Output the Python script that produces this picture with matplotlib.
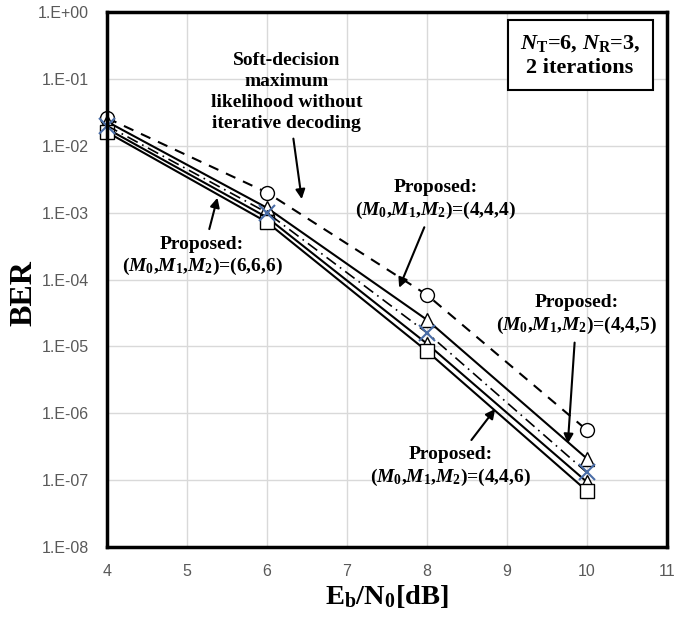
import matplotlib
matplotlib.use('Agg')
import matplotlib.pyplot as plt

# data (Eb/N0 in dB, BER)
snr = [4, 6, 8, 10]
ber_ml = [2.6e-2, 2.0e-3, 5.9e-5, 5.6e-7]      # soft-decision ML, no iterative decoding
ber_444 = [2.3e-2, 1.18e-3, 2.5e-5, 2.1e-7]
ber_445 = [2.0e-2, 1.0e-3, 1.6e-5, 1.3e-7]
ber_446 = [1.8e-2, 8.5e-4, 1.1e-5, 9.4e-8]
ber_666 = [1.6e-2, 7.2e-4, 8.5e-6, 6.9e-8]

y_ticks = [1e0, 1e-1, 1e-2, 1e-3, 1e-4, 1e-5, 1e-6, 1e-7, 1e-8]
y_labels = ['1.E+00', '1.E-01', '1.E-02', '1.E-03', '1.E-04',
            '1.E-05', '1.E-06', '1.E-07', '1.E-08']
x_ticks = [4, 5, 6, 7, 8, 9, 10, 11]

plt.rcParams['mathtext.fontset'] = 'custom'
plt.rcParams['mathtext.rm'] = 'Liberation Serif:bold'
plt.rcParams['mathtext.bf'] = 'Liberation Serif:bold'
plt.rcParams['mathtext.it'] = 'Liberation Serif:italic:bold'

fig = plt.figure(figsize=(6.99, 6.17), dpi=100)
ax = fig.add_axes([0.153, 0.1135, 0.801, 0.867])

mk = dict(markersize=10, markerfacecolor='white', markeredgecolor='black',
          markeredgewidth=1.0, color='black', linewidth=1.5, clip_on=False)
ax.plot(snr, ber_ml, linestyle=(0, (5, 4)), marker='o', **mk)
ax.plot(snr, ber_444, linestyle='-', marker='^', **mk)
ax.plot(snr, ber_446, linestyle='-', marker='^', **mk)
ax.plot(snr, ber_666, linestyle='-', marker='s', **mk)
ax.plot(snr, ber_445, linestyle=(0, (7, 3, 1, 3)), color='black', linewidth=1.2,
        marker='x', markersize=11, markeredgecolor='#4a6da7', markeredgewidth=1.5,
        clip_on=False)

ax.set_yscale('log')
ax.set_xlim(4, 11)
ax.set_ylim(1e-8, 1)
ax.set_yticks(y_ticks)
ax.set_yticklabels(y_labels)
ax.set_xticks(x_ticks)
ax.minorticks_off()
ax.tick_params(length=0, labelsize=11.5, colors='#595959')
ax.tick_params(axis='y', pad=13)
ax.tick_params(axis='x', pad=12)
for lab in ax.get_xticklabels() + ax.get_yticklabels():
    lab.set_family('Liberation Sans')
ax.grid(True, color='#d9d9d9', linewidth=1.0)
ax.set_axisbelow(True)
for s in ax.spines.values():
    s.set_linewidth(2.5)
    s.set_color('black')

ax.set_ylabel('BER', family='Liberation Serif', fontweight='bold', fontsize=23)
ax.yaxis.set_label_coords(-0.122, 0.475)
ax.set_xlabel(r'E$_\mathrm{b}$/N$_\mathrm{0}$[dB]', family='Liberation Serif',
              fontweight='bold', fontsize=20.5, labelpad=3)

tx = dict(family='Liberation Serif', fontweight='bold', fontsize=14,
          ha='center', va='center', linespacing=1.22)
arr = dict(arrowstyle='-|>', color='black', lw=1.5, mutation_scale=14, shrinkA=3)

ax.annotate('Soft-decision\nmaximum\nlikelihood without\niterative decoding',
            xy=(6.44, 1.45e-3), xytext=(6.25, 6.4e-2), arrowprops=arr,
            **dict(tx, linespacing=1.3))

m = r'($\mathit{M}_0$,$\mathit{M}_1$,$\mathit{M}_2$)='
ax.annotate('Proposed:\n' + m + '(6,6,6)', xy=(5.39, 1.83e-3),
            xytext=(5.19, 2.2e-4), arrowprops=arr, **tx)
ax.annotate('Proposed:\n' + m + '(4,4,4)', xy=(7.64, 6.9e-5),
            xytext=(8.11, 1.55e-3), arrowprops=arr, **tx)
ax.annotate('Proposed:\n' + m + '(4,4,5)', xy=(9.76, 3.2e-7),
            xytext=(9.87, 2.95e-5), arrowprops=arr, **tx)
ax.annotate('Proposed:\n' + m + '(4,4,6)', xy=(8.875, 1.25e-6),
            xytext=(8.3, 1.58e-7), arrowprops=arr, **tx)

ax.text(0.845, 0.919, r'$\mathit{N}_\mathrm{T}$=6, $\mathit{N}_\mathrm{R}$=3,' + '\n2 iterations',
        transform=ax.transAxes, family='Liberation Serif', fontweight='bold',
        fontsize=16, ha='center', va='center', linespacing=1.25,
        bbox=dict(boxstyle='square,pad=0.55', facecolor='white', edgecolor='black', linewidth=1.5))

fig.savefig('out.png', dpi=100)
